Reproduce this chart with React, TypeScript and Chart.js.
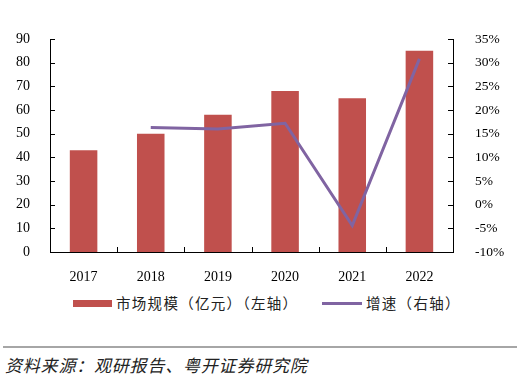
import React, { useEffect, useRef } from "react";
import { Chart, registerables } from "chart.js";

Chart.register(...registerables);

const categories = ["2017", "2018", "2019", "2020", "2021", "2022"];
const marketSize = [43, 50, 58, 68, 65, 85];
const growthRate = [null, 16.3, 16.0, 17.2, -4.4, 30.8];
const leftTicks = [0, 10, 20, 30, 40, 50, 60, 70, 80, 90];
const rightTicks = [-10, -5, 0, 5, 10, 15, 20, 25, 30, 35];
const barLabel = "市场规模（亿元）（左轴）";
const lineLabel = "增速（右轴）";
const sourceText = "资料来源：观研报告、粤开证券研究院";

const BAR_COLOR = "#C0504D";
const LINE_COLOR = "#8064A2";
const SERIF = "'Liberation Serif', 'Times New Roman', serif";
const CJK = "'Noto Sans CJK SC', sans-serif";

const innerTicks = {
  id: "innerTicks",
  afterDraw(chart: any) {
    const { ctx, chartArea, scales } = chart;
    const len = 5;
    ctx.save();
    ctx.strokeStyle = "#000";
    ctx.lineWidth = 1;
    ctx.beginPath();
    scales.y.ticks.forEach((t: any) => {
      const py = Math.round(scales.y.getPixelForValue(t.value)) + 0.5;
      ctx.moveTo(chartArea.left, py);
      ctx.lineTo(chartArea.left + len, py);
    });
    scales.y1.ticks.forEach((t: any) => {
      const py = Math.round(scales.y1.getPixelForValue(t.value)) + 0.5;
      ctx.moveTo(chartArea.right - len, py);
      ctx.lineTo(chartArea.right, py);
    });
    for (let i = 1; i < categories.length; i++) {
      const px =
        Math.round((scales.x.getPixelForValue(i - 1) + scales.x.getPixelForValue(i)) / 2) + 0.5;
      ctx.moveTo(px, chartArea.bottom);
      ctx.lineTo(px, chartArea.bottom - len);
    }
    ctx.stroke();
    ctx.restore();
  },
};

export default function App() {
  const canvasRef = useRef<HTMLCanvasElement | null>(null);

  useEffect(() => {
    if (!canvasRef.current) return;
    const tickFont = { family: SERIF, size: 14 };
    const rightFont = { family: SERIF, size: 13.5 };
    const chart = new Chart(canvasRef.current, {
      type: "bar",
      data: {
        labels: categories,
        datasets: [
          {
            type: "line",
            label: lineLabel,
            data: growthRate as any,
            yAxisID: "y1",
            borderColor: LINE_COLOR,
            backgroundColor: LINE_COLOR,
            borderWidth: 3,
            pointRadius: 0,
            tension: 0,
            order: 0,
          } as any,
          {
            type: "bar",
            label: barLabel,
            data: marketSize,
            yAxisID: "y",
            backgroundColor: BAR_COLOR,
            borderWidth: 0,
            categoryPercentage: 1,
            barPercentage: 0.41,
            order: 1,
          },
        ],
      },
      options: {
        responsive: false,
        animation: false,
        layout: { padding: { top: 39, left: 0, right: 0, bottom: 0 } },
        plugins: {
          legend: { display: false },
          tooltip: { enabled: false },
        },
        scales: {
          x: {
            type: "category",
            offset: true,
            grid: { display: false },
            border: { display: true, color: "#000", width: 1 },
            ticks: { font: tickFont, color: "#000", padding: 9, maxRotation: 0 },
            afterFit: (s: any) => {
              s.height = 38;
            },
          },
          y: {
            position: "left",
            min: leftTicks[0],
            max: leftTicks[leftTicks.length - 1],
            grid: { display: false },
            border: { display: true, color: "#000", width: 1 },
            ticks: { font: tickFont, color: "#000", padding: 12, stepSize: 10 },
            afterFit: (s: any) => {
              s.width = 50;
            },
          },
          y1: {
            position: "right",
            min: rightTicks[0],
            max: rightTicks[rightTicks.length - 1],
            grid: { display: false },
            border: { display: true, color: "#000", width: 1 },
            ticks: {
              font: rightFont,
              color: "#000",
              padding: 14,
              stepSize: 5,
              callback: (v: any) => `${v}%`,
            },
            afterFit: (s: any) => {
              s.width = 66;
            },
          },
        },
      },
      plugins: [innerTicks],
    });
    return () => chart.destroy();
  }, []);

  return (
    <div
      style={{
        position: "absolute",
        left: 0,
        top: 0,
        width: 519,
        height: 378,
        background: "#fff",
        overflow: "hidden",
      }}
    >
      <canvas
        ref={canvasRef}
        width={519}
        height={290}
        style={{ position: "absolute", left: 0, top: 0, width: 519, height: 290 }}
      />
      <div
        style={{
          position: "absolute",
          left: 73,
          top: 299.5,
          width: 39,
          height: 7,
          background: BAR_COLOR,
        }}
      />
      <div
        style={{
          position: "absolute",
          left: 116,
          top: 293,
          fontFamily: CJK,
          fontSize: 14.5,
          letterSpacing: 1.3,
          lineHeight: "20px",
          color: "#222",
          whiteSpace: "nowrap",
        }}
      >
        {barLabel}
      </div>
      <div
        style={{
          position: "absolute",
          left: 322,
          top: 302,
          width: 40,
          height: 3,
          background: LINE_COLOR,
        }}
      />
      <div
        style={{
          position: "absolute",
          left: 366,
          top: 293,
          fontFamily: CJK,
          fontSize: 14.5,
          letterSpacing: 1.3,
          lineHeight: "20px",
          color: "#222",
          whiteSpace: "nowrap",
        }}
      >
        {lineLabel}
      </div>
      <div
        style={{
          position: "absolute",
          left: 3,
          top: 346,
          width: 514,
          height: 2,
          background: "#A6A6A6",
        }}
      />
      <div
        style={{
          position: "absolute",
          left: 5,
          top: 354,
          fontFamily: CJK,
          fontSize: 17,
          fontStyle: "italic",
          letterSpacing: 0.8,
          lineHeight: "22px",
          color: "#222",
          whiteSpace: "nowrap",
        }}
      >
        {sourceText}
      </div>
    </div>
  );
}
